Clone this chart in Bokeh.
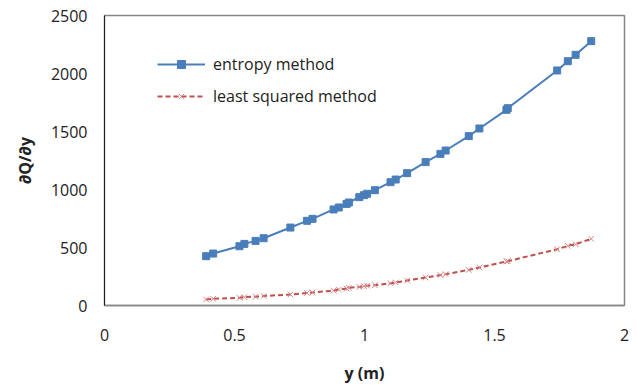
from bokeh.plotting import figure
from bokeh.models import Range1d, FixedTicker, Legend, LegendItem
from bokeh.embed import file_html
from bokeh.resources import INLINE

y_m = [0.391, 0.418, 0.519, 0.538, 0.581, 0.612, 0.715, 0.779, 0.800, 0.881,
       0.901, 0.931, 0.940, 0.980, 0.998, 1.010, 1.040, 1.100, 1.120, 1.164,
       1.235, 1.292, 1.312, 1.401, 1.442, 1.546, 1.551, 1.741, 1.782, 1.812, 1.872]
entropy = [425, 448, 511, 531, 557, 580, 672, 730, 747, 828,
           845, 876, 888, 934, 951, 963, 994, 1063, 1086, 1141,
           1236, 1307, 1336, 1460, 1526, 1687, 1701, 2026, 2106, 2161, 2279]
least_sq = [52, 58, 66, 72, 76, 82, 95, 108, 112, 128,
            138, 146, 152, 160, 167, 170, 175, 192, 198, 215,
            241, 262, 270, 307, 328, 380, 382, 485, 514, 528, 575]
x_ticks = [0, 0.5, 1, 1.5, 2]
y_ticks = [0, 500, 1000, 1500, 2000, 2500]

FONT = "Open Sans"

p = figure(width=637, height=391, output_backend="svg", toolbar_location=None,
           x_range=Range1d(0, 2), y_range=Range1d(0, 2500),
           min_border_left=104, min_border_right=13, min_border_top=15,
           min_border_bottom=86)
p.xgrid.visible = False
p.ygrid.visible = False
p.outline_line_color = "#868686"
p.outline_line_width = 1.5
p.background_fill_color = "white"
p.border_fill_color = "white"

for ax in (p.xaxis[0], p.yaxis[0]):
    ax.major_tick_line_color = None
    ax.minor_tick_line_color = None
    ax.major_tick_out = 0
    ax.major_label_text_font = FONT
    ax.major_label_text_font_size = "16px"
    ax.major_label_text_color = "#222222"
    ax.axis_label_text_font = FONT
    ax.axis_label_text_font_size = "16px"
    ax.axis_label_text_font_style = "bold"
    ax.axis_label_text_color = "#222222"

p.xaxis.ticker = FixedTicker(ticks=x_ticks)
p.yaxis.ticker = FixedTicker(ticks=y_ticks)
p.xaxis.axis_line_color = "#868686"
p.xaxis.axis_line_width = 1.5
p.yaxis.axis_line_color = "#222222"
p.yaxis.axis_line_width = 1
p.xaxis.major_label_standoff = 23
p.yaxis.major_label_standoff = 17
p.xaxis.axis_label = "y (m)"
p.yaxis.axis_label = "∂Q/∂y"
p.xaxis.axis_label_standoff = 18
p.yaxis.axis_label_standoff = 12

blue = "#4A7EBB"
red = "#C0504D"
l1 = p.line(y_m, entropy, line_color=blue, line_width=2)
m1 = p.scatter(y_m, entropy, marker="square", size=7, fill_color=blue, line_color=blue)
l2 = p.line(y_m, least_sq, line_color=red, line_width=2, line_dash="5 3")
m2 = p.scatter(y_m, least_sq, marker="x", size=8, line_color="#D9888A", line_width=1)

legend = Legend(items=[LegendItem(label="entropy method", renderers=[l1, m1]),
                       LegendItem(label="least squared method", renderers=[l2, m2])],
                location=(53, 198), orientation="vertical",
                background_fill_alpha=0, border_line_color=None,
                label_text_font=FONT, label_text_font_size="16px",
                label_text_color="#222222", label_height=20, glyph_height=20,
                glyph_width=48, label_standoff=8, spacing=10, padding=0, margin=0)
p.add_layout(legend, "center")

open("out.html", "w").write(file_html(p, INLINE))
